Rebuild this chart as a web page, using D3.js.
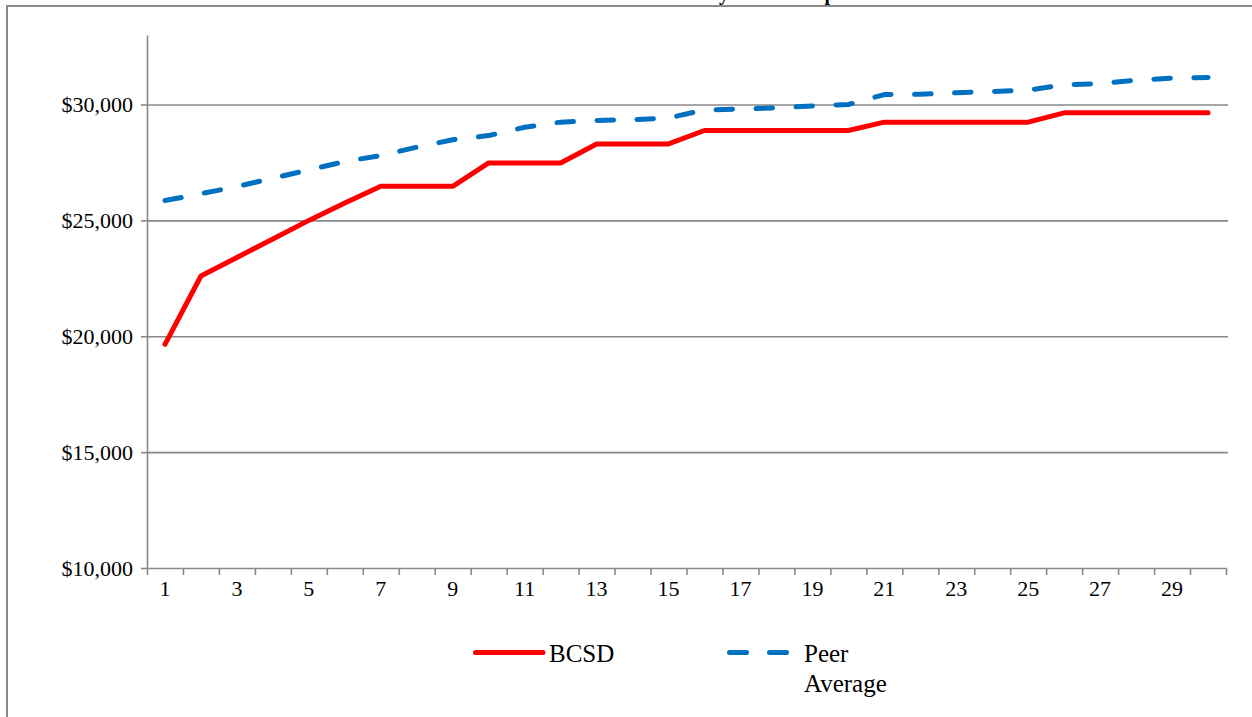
<!DOCTYPE html>
<html>
<head>
<meta charset="utf-8">
<script src="https://cdn.jsdelivr.net/npm/d3@7"></script>
<style>
  html, body { margin: 0; padding: 0; background: #ffffff; }
  svg { display: block; }
  text { font-family: "Liberation Serif", "Times New Roman", serif; fill: #000; }
</style>
</head>
<body>
<svg id="chart" width="1252" height="717"></svg>
<script>
// Salary steps 1..30
const steps = d3.range(1, 31);

// BCSD salary at each step
const bcsd = [
  19650, 22600, 23400, 24200, 25000, 25750, 26470, 26470, 26470, 27480,
  27480, 27480, 28300, 28300, 28300, 28880, 28880, 28880, 28880, 28880,
  29240, 29240, 29240, 29240, 29240, 29640, 29640, 29640, 29640, 29640
];

// Peer district average at each step
const peerAverage = [
  25860, 26150, 26460, 26820, 27180, 27540, 27800, 28160, 28480, 28660,
  29020, 29240, 29310, 29350, 29420, 29770, 29800, 29860, 29940, 30000,
  30430, 30440, 30510, 30560, 30620, 30850, 30900, 31050, 31140, 31170
];

const yTicks = [10000, 15000, 20000, 25000, 30000];
const seriesNames = ["BCSD", "Peer", "Average"];
const chartTitle = "Salary Scale Comparison";

const svg = d3.select("#chart");
const gray = "#898989";
const red = "#ff0000";
const blue = "#0070c0";

const plotLeft = 147, plotRight = 1226, plotTop = 35, plotBottom = 568;

const x = d3.scaleBand().domain(steps).range([plotLeft, plotRight]).padding(0);
const xEdge = d3.scaleLinear().domain([0, steps.length]).range([plotLeft, plotRight]);
const y = d3.scaleLinear().domain([10000, 33000]).range([plotBottom, plotTop]);

// Title, placed high so that it runs off the top of the frame
const title = svg.append("text")
  .attr("x", 0).attr("y", 0)
  .style("font-size", "20px").style("font-weight", "bold")
  .text(chartTitle);
const yPos = title.node().getStartPositionOfChar(chartTitle.indexOf("y")).x;
title.attr("x", 719 - yPos);

// Outer chart frame (top and left edges)
svg.append("path")
  .attr("d", `M7,${717 + 5} L7,6 L${1252 + 5},6`)
  .attr("fill", "none").attr("stroke", gray).attr("stroke-width", 2);

// Horizontal gridlines
svg.append("g")
  .attr("transform", `translate(${plotLeft},0)`)
  .call(d3.axisLeft(y).tickValues(yTicks.slice(1)).tickSize(-(plotRight - plotLeft + 2)).tickFormat(""))
  .call(g => g.select(".domain").remove())
  .call(g => g.selectAll("line").attr("stroke", gray).attr("stroke-width", 1.6));

// Y axis
svg.append("g")
  .attr("transform", `translate(${plotLeft},0)`)
  .call(d3.axisLeft(y).tickValues(yTicks).tickSize(6).tickSizeOuter(0).tickPadding(8).tickFormat(d3.format("$,")))
  .call(g => g.select(".domain").attr("stroke", gray).attr("stroke-width", 1.6))
  .call(g => g.selectAll("line").attr("stroke", gray).attr("stroke-width", 1.6))
  .call(g => g.selectAll("text").style("font-size", "22px").style("font-family", "Liberation Serif").attr("fill", "#000"));

// X axis: tick marks between steps
svg.append("g")
  .attr("transform", `translate(0,${plotBottom})`)
  .call(d3.axisBottom(xEdge).tickValues(d3.range(0, steps.length + 1)).tickSize(7).tickSizeOuter(0).tickFormat(""))
  .call(g => g.select(".domain").attr("stroke", gray).attr("stroke-width", 1.6))
  .call(g => g.selectAll("line").attr("stroke", gray).attr("stroke-width", 1.6));

// X axis: labels at odd steps
svg.append("g")
  .attr("transform", `translate(0,${plotBottom})`)
  .call(d3.axisBottom(x).tickSize(0).tickPadding(12).tickFormat(d => d % 2 === 1 ? d : ""))
  .call(g => g.select(".domain").remove())
  .call(g => g.selectAll("text").style("font-size", "22px").style("font-family", "Liberation Serif").attr("fill", "#000"));

const line = d3.line().x((d, i) => x(steps[i]) + x.bandwidth() / 2).y(d => y(d));

svg.append("path").datum(peerAverage)
  .attr("d", line).attr("fill", "none")
  .attr("stroke", blue).attr("stroke-width", 5)
  .attr("stroke-linecap", "round").attr("stroke-linejoin", "round")
  .attr("stroke-dasharray", "16.5,23.5");

svg.append("path").datum(bcsd)
  .attr("d", line).attr("fill", "none")
  .attr("stroke", red).attr("stroke-width", 5)
  .attr("stroke-linecap", "round").attr("stroke-linejoin", "round");

// Legend
const lg = svg.append("g");
lg.append("line").attr("x1", 475.5).attr("x2", 543).attr("y1", 652.5).attr("y2", 652.5)
  .attr("stroke", red).attr("stroke-width", 5).attr("stroke-linecap", "round");
lg.append("text").attr("x", 549).attr("y", 662).style("font-size", "25px").text(seriesNames[0]);
lg.append("line").attr("x1", 729.5).attr("x2", 787).attr("y1", 652.5).attr("y2", 652.5)
  .attr("stroke", blue).attr("stroke-width", 5).attr("stroke-linecap", "round")
  .attr("stroke-dasharray", "17,23");
lg.append("text").attr("x", 804).attr("y", 662).style("font-size", "25px").text(seriesNames[1]);
lg.append("text").attr("x", 804).attr("y", 692).style("font-size", "25px").text(seriesNames[2]);
</script>
</body>
</html>
